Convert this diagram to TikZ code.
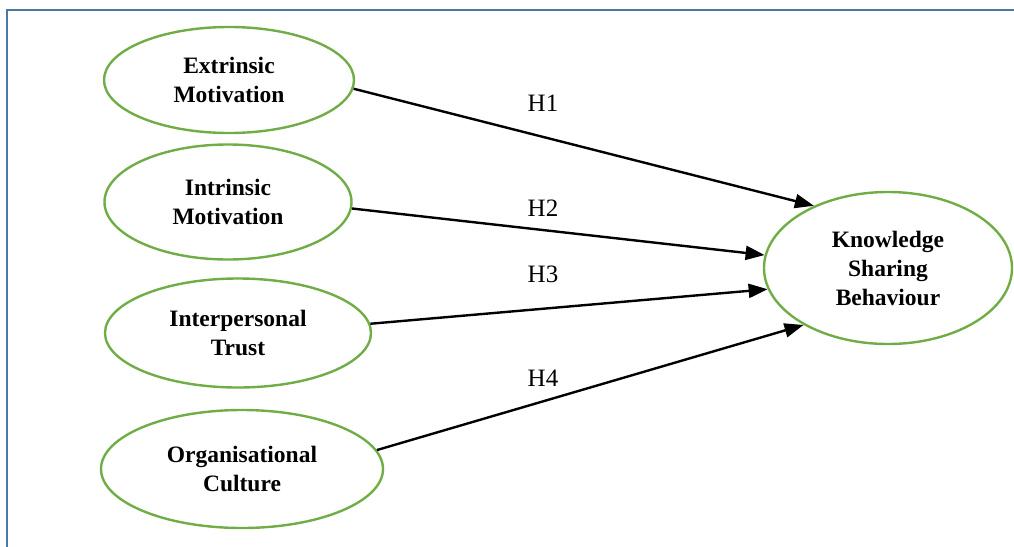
\documentclass[tikz,border=0pt]{standalone}
\usepackage{fontspec}
\setmainfont{Liberation Serif}
\usetikzlibrary{arrows.meta,shapes.geometric}
\definecolor{ovalgreen}{HTML}{70AD47}
\definecolor{framblue}{HTML}{4A76A8}
\begin{document}
\begin{tikzpicture}[x=1pt,y=-1pt,
  oval/.style={ellipse,draw=ovalgreen,line width=2.4pt,inner sep=0pt,align=center,
    font=\fontsize{23.5}{29}\selectfont\bfseries},
  link/.style={line width=2.4pt,-{Triangle[length=19pt,width=14pt]}},
  hlab/.style={font=\fontsize{25}{29}\selectfont,inner sep=0pt}]
\useasboundingbox (0,0) rectangle (1014,546);
\draw[framblue,line width=2.6pt] (7,560) -- (7,10) -- (1020,10);
\node[oval,minimum width=250pt,minimum height=106pt] (em) at (229,80) {Extrinsic\\Motivation};
\node[oval,minimum width=247pt,minimum height=115pt] (im) at (228,202) {Intrinsic\\Motivation};
\node[oval,minimum width=266pt,minimum height=109pt] (it) at (238,333) {Interpersonal\\Trust};
\node[oval,minimum width=282pt,minimum height=118pt] (oc) at (242,469) {Organisational\\Culture};
\node[oval,minimum width=248pt,minimum height=152pt] (ksb) at (888,268) {Knowledge\\Sharing\\Behaviour};
\node[hlab] (h1) at (543,103) {H1};
\node[hlab] (h2) at (543,208) {H2};
\node[hlab] (h3) at (543,274) {H3};
\node[hlab] (h4) at (543,378) {H4};
\draw[link] (em.-4.6) -- (ksb.140.3);
\draw[link] (im.-3.3) -- (ksb.174.4);
\draw[link] (it.4.7) -- (ksb.-170.6);
\draw[link] (oc.8.5) -- (ksb.-146);
\end{tikzpicture}
\end{document}
